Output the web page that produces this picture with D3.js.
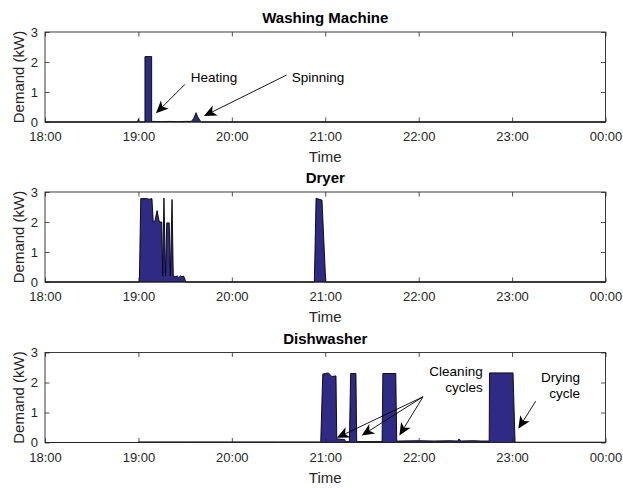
<!DOCTYPE html>
<html>
<head>
<meta charset="utf-8">
<script src="https://cdn.jsdelivr.net/npm/d3@7"></script>
<style>
  html, body { margin: 0; padding: 0; background: #fff; }
  svg { display: block; font-family: "Liberation Sans", Arial, sans-serif; }
</style>
</head>
<body>
<svg id="chart" width="623" height="488"></svg>
<script>
// Time axis: minutes after 18:00
const tickMinutes = [0, 60, 120, 180, 240, 300, 360];
const tickLabels = ["18:00", "19:00", "20:00", "21:00", "22:00", "23:00", "00:00"];
const demandTicks = [0, 1, 2, 3];

const panelTitles = ["Washing Machine", "Dryer", "Dishwasher"];

// Washing machine demand (minutes, kW)
const washT  = [0, 59.5, 60, 60.6, 64.2, 64.2, 68.5, 68.5, 69.5, 75, 80, 85, 90, 94, 95.5, 97, 98, 99.5, 100.5, 360];
const washKW = [0, 0, 0.1, 0, 0, 2.18, 2.18, 0, 0.02, 0.01, 0.02, 0.01, 0.02, 0.02, 0.12, 0.31, 0.18, 0.05, 0, 0];

// Dryer demand (minutes, kW)
const dryT  = [0, 60.6, 61.5, 65, 67, 68.7, 69.5, 70.5, 72, 73, 73.5, 75, 75.6, 76.4, 77.4, 78.2, 79.8, 80.5, 81.6, 82.4,
               84, 85, 86, 87, 88, 89, 89.8, 90.3, 173.0, 174.1, 177.9, 180.3, 360];
const dryKW = [0, 0, 2.78, 2.78, 2.76, 2.78, 2.0, 2.02, 2.38, 2.1, 2.0, 2.0, 0.2, 2.8, 0.2, 1.97, 1.97, 0.2, 2.75, 0.2,
               0.18, 0.2, 0.15, 0.2, 0.18, 0.2, 0.1, 0, 0, 2.79, 2.73, 0, 0];

// Dishwasher demand (minutes, kW)
const dishT  = [0, 59.8, 60, 90, 120, 150, 177.1, 178.4, 180, 182, 184.2, 186.9, 187.4, 187.6, 192.5, 193, 195.5, 196.3, 199.7, 200.2,
                201, 216.5, 217, 225.3, 225.9, 227, 240, 250, 260, 265, 266, 267, 275, 280, 285.3, 285.5, 300.6, 301.9, 303, 360];
const dishKW = [0, 0, 0.02, 0.02, 0.02, 0.02, 0.02, 2.28, 2.3, 2.32, 2.2, 2.22, 0.12, 0.12, 0.1, 0.03, 0.03, 2.3, 2.3, 0.03,
                0.03, 0.03, 2.3, 2.3, 0.05, 0.05, 0.06, 0.05, 0.06, 0.05, 0.12, 0.05, 0.06, 0.05, 0.05, 2.32, 2.32, 0.02, 0.01, 0.01];

// Annotation labels (anchor in minutes / kW)
const washNotes = [
  { lines: ["Heating"],  x: 93.6,  y: 1.343, anchor: "start" },
  { lines: ["Spinning"], x: 158.5, y: 1.343, anchor: "start" }
];
const washArrows = [
  { from: [89.9, 1.257],  to: [71.3, 0.29] },
  { from: [155.2, 1.567], to: [102.1, 0.2] }
];
const dishNotes = [
  { lines: ["Cleaning", "cycles"], x: 281.1, y: 2.233, anchor: "end" },
  { lines: ["Drying", "cycle"],    x: 343.6, y: 2.023, anchor: "end" }
];
const dishArrows = [
  { from: [242.8, 1.523], to: [187.4, 0.157] },
  { from: [242.8, 1.523], to: [203.4, 0.233] },
  { from: [242.8, 1.523], to: [227.6, 0.233] },
  { from: [315.2, 1.377], to: [304.0, 0.457] }
];

const series = [
  { title: panelTitles[0], t: washT, v: washKW, notes: washNotes, arrows: washArrows },
  { title: panelTitles[1], t: dryT,  v: dryKW,  notes: [],        arrows: [] },
  { title: panelTitles[2], t: dishT, v: dishKW, notes: dishNotes, arrows: dishArrows }
];

const svg = d3.select("#chart");
const axisColor = "#262626";
const fillColor = "#2e2a86";

const left = 45, right = 605.5, plotH = 90;
const panelTops = [32, 192, 352.5];

const x = d3.scaleLinear().domain([0, 360]).range([left, right]);

// filled arrowhead with a notched back
function arrowHead(g, x1, y1, x2, y2) {
  const ang = Math.atan2(y2 - y1, x2 - x1);
  const L = 12.5, W = 5.6, notch = 3.4;
  const pt = (d, s) => [x2 - d * Math.cos(ang) - s * Math.sin(ang), y2 - d * Math.sin(ang) + s * Math.cos(ang)];
  const p = [[x2, y2], pt(L, W), pt(L - notch, 0), pt(L, -W)];
  g.append("path")
    .attr("d", "M" + p.map(q => q.join(",")).join("L") + "Z")
    .attr("fill", "#000");
}

series.forEach((s, i) => {
  const top = panelTops[i];
  const y = d3.scaleLinear().domain([0, 3]).range([top + plotH, top]);
  const g = svg.append("g");
  const pts = s.t.map((t, k) => [t, s.v[k]]);

  // demand area
  const area = d3.area()
    .x(d => x(d[0]))
    .y0(y(0))
    .y1(d => y(d[1]));
  g.append("path")
    .datum(pts)
    .attr("d", area)
    .attr("fill", fillColor)
    .attr("stroke", "#000")
    .attr("stroke-width", 0.9)
    .attr("stroke-linejoin", "miter");

  // axes with inward ticks on all four sides
  const bottomAxis = d3.axisBottom(x).tickValues(tickMinutes)
    .tickFormat((d, k) => tickLabels[k]).tickSizeInner(-4.5).tickSizeOuter(0).tickPadding(10);
  const topAxis = d3.axisTop(x).tickValues(tickMinutes)
    .tickFormat("").tickSizeInner(-4.5).tickSizeOuter(0);
  const leftAxis = d3.axisLeft(y).tickValues(demandTicks)
    .tickFormat(d3.format("d")).tickSizeInner(-4.5).tickSizeOuter(0).tickPadding(7);
  const rightAxis = d3.axisRight(y).tickValues(demandTicks)
    .tickFormat("").tickSizeInner(-4.5).tickSizeOuter(0);

  const axes = [
    g.append("g").attr("transform", `translate(0,${top + plotH})`).call(bottomAxis),
    g.append("g").attr("transform", `translate(0,${top})`).call(topAxis),
    g.append("g").attr("transform", `translate(${left},0)`).call(leftAxis),
    g.append("g").attr("transform", `translate(${right},0)`).call(rightAxis)
  ];
  axes.forEach(a => {
    a.select(".domain").remove();
    a.selectAll("line").attr("stroke", axisColor).attr("stroke-width", 0.8);
    a.selectAll("text").attr("fill", axisColor).style("font-size", "13px")
      .style("font-family", "'Liberation Sans', Arial, sans-serif");
  });

  g.append("rect")
    .attr("x", left).attr("y", top)
    .attr("width", right - left).attr("height", plotH)
    .attr("fill", "none").attr("stroke", axisColor).attr("stroke-width", 0.9);

  // titles and axis labels
  g.append("text")
    .attr("x", (left + right) / 2).attr("y", top - 9)
    .attr("text-anchor", "middle")
    .style("font-size", "15px").style("font-weight", "bold")
    .attr("fill", "#000")
    .text(s.title);

  g.append("text")
    .attr("x", (left + right) / 2).attr("y", top + plotH + 40)
    .attr("text-anchor", "middle")
    .style("font-size", "15px").attr("fill", axisColor)
    .text("Time");

  g.append("text")
    .attr("transform", `translate(24,${top + plotH / 2}) rotate(-90)`)
    .attr("text-anchor", "middle")
    .style("font-size", "15px").attr("fill", axisColor)
    .text("Demand (kW)");

  // annotations
  s.arrows.forEach(a => {
    const x1 = x(a.from[0]), y1 = y(a.from[1]), x2 = x(a.to[0]), y2 = y(a.to[1]);
    const ang = Math.atan2(y2 - y1, x2 - x1);
    g.append("line")
      .attr("x1", x1).attr("y1", y1)
      .attr("x2", x2 - 9 * Math.cos(ang)).attr("y2", y2 - 9 * Math.sin(ang))
      .attr("stroke", "#000").attr("stroke-width", 0.9);
    arrowHead(g, x1, y1, x2, y2);
  });
  s.notes.forEach(n => {
    const t = g.append("text")
      .attr("text-anchor", n.anchor)
      .style("font-size", "13.5px").attr("fill", "#000");
    n.lines.forEach((line, k) => {
      t.append("tspan").attr("x", x(n.x)).attr("y", y(n.y) + k * 16.5).text(line);
    });
  });
});
</script>
</body>
</html>
